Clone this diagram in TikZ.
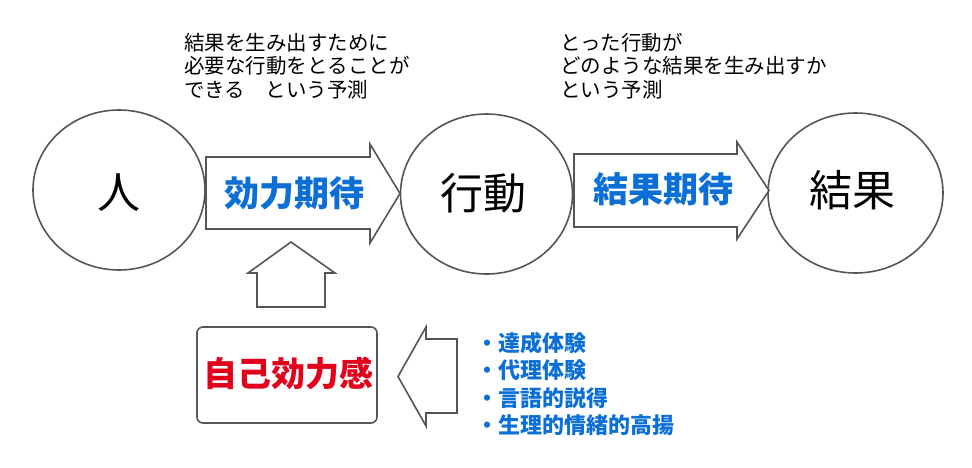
\documentclass[tikz,border=0pt]{standalone}
\usepackage{fontspec}
\setmainfont{Noto Sans CJK JP}
\usepackage{tikz}
\usetikzlibrary{shapes}
\usetikzlibrary{positioning}
\definecolor{outl}{HTML}{555555}
\definecolor{expt}{HTML}{0B6FD6}
\definecolor{selfeff}{HTML}{E3001B}

\begin{document}
\begin{tikzpicture}[
  x=1pt, y=-1pt,
  blob/.style ={
    ellipse, draw=outl, line width=1.6pt,
    minimum width=172pt, minimum height=160pt,
    font=\fontsize{43pt}{43pt}\selectfont
  },
  blk/.style ={
    draw=outl, line width=1.6pt, fill=white, line join=miter
  },
  expect/.style ={
    text=expt, inner sep=0pt,
    font=\bfseries\fontsize{35pt}{35pt}\selectfont
  },
  note/.style ={
    align=left, inner sep=0pt,
    font=\fontsize{20.5pt}{23.5pt}\selectfont
  },
]
  \useasboundingbox (0,0) rectangle (972,467);

        \node[blob] (hito) at (119,190) {};
        \node at (119,193) {\fontsize{43pt}{43pt}\selectfont 人};

        \node[blob] (kodo) at (486.5,194) {};
        \node at (483,193) {\fontsize{43pt}{43pt}\selectfont 行動};

        \node[blob, minimum width=175pt] (kekka) at (855.5,193) {};
        \node at (852.5,190) {\fontsize{43pt}{43pt}\selectfont 結果};

        % block arrows
        \draw[blk] (206,157) -- (370,157) -- (370,144) -- (400,193.5)
            -- (370,243) -- (370,229) -- (206,229) -- cycle;
        \node[expect] (eff_exp) at (294,193) {効力期待};

        \draw[blk] (574,154) -- (737,154) -- (737,142) -- (769,190.5)
            -- (737,239) -- (737,227) -- (574,227) -- cycle;
        \node[expect] (res_exp) at (663,189) {結果期待};

        \draw[blk] (291,242) -- (335,273) -- (325,273) -- (325,307)
            -- (257,307) -- (257,273) -- (248,273) -- cycle;

        \draw[blk] (398,376.5) -- (426,327) -- (426,339) -- (457,339)
            -- (457,413) -- (426,413) -- (426,426) -- cycle;

        \node[draw=outl, line width=1.6pt, rounded corners=6pt,
            minimum width=180pt, minimum height=96pt] (selfbox)
            at (287,375) {};
        \node[text=selfeff, inner sep=0pt] (self_lbl) at (288,373)
            {\bfseries\fontsize{34pt}{34pt}\selectfont 自己効力感};

        % sources
        \node[note, anchor=west, text=expt,
            font=\bfseries\fontsize{22pt}{27.3pt}\selectfont] (sources)
            at (476,384)
            {・達成体験\\・代理体験\\・言語的説得\\・生理的情緒的高揚};

        % predictions
        \node[note, anchor=west] (eff_note) at (184,66)
            {結果を生み出すために\\必要な行動をとることが\\できる　という予測};
        \node[note, anchor=west] (res_note) at (560,66)
            {とった行動が\\どのような結果を生み出すか\\という予測};

\end{tikzpicture}
\end{document}
